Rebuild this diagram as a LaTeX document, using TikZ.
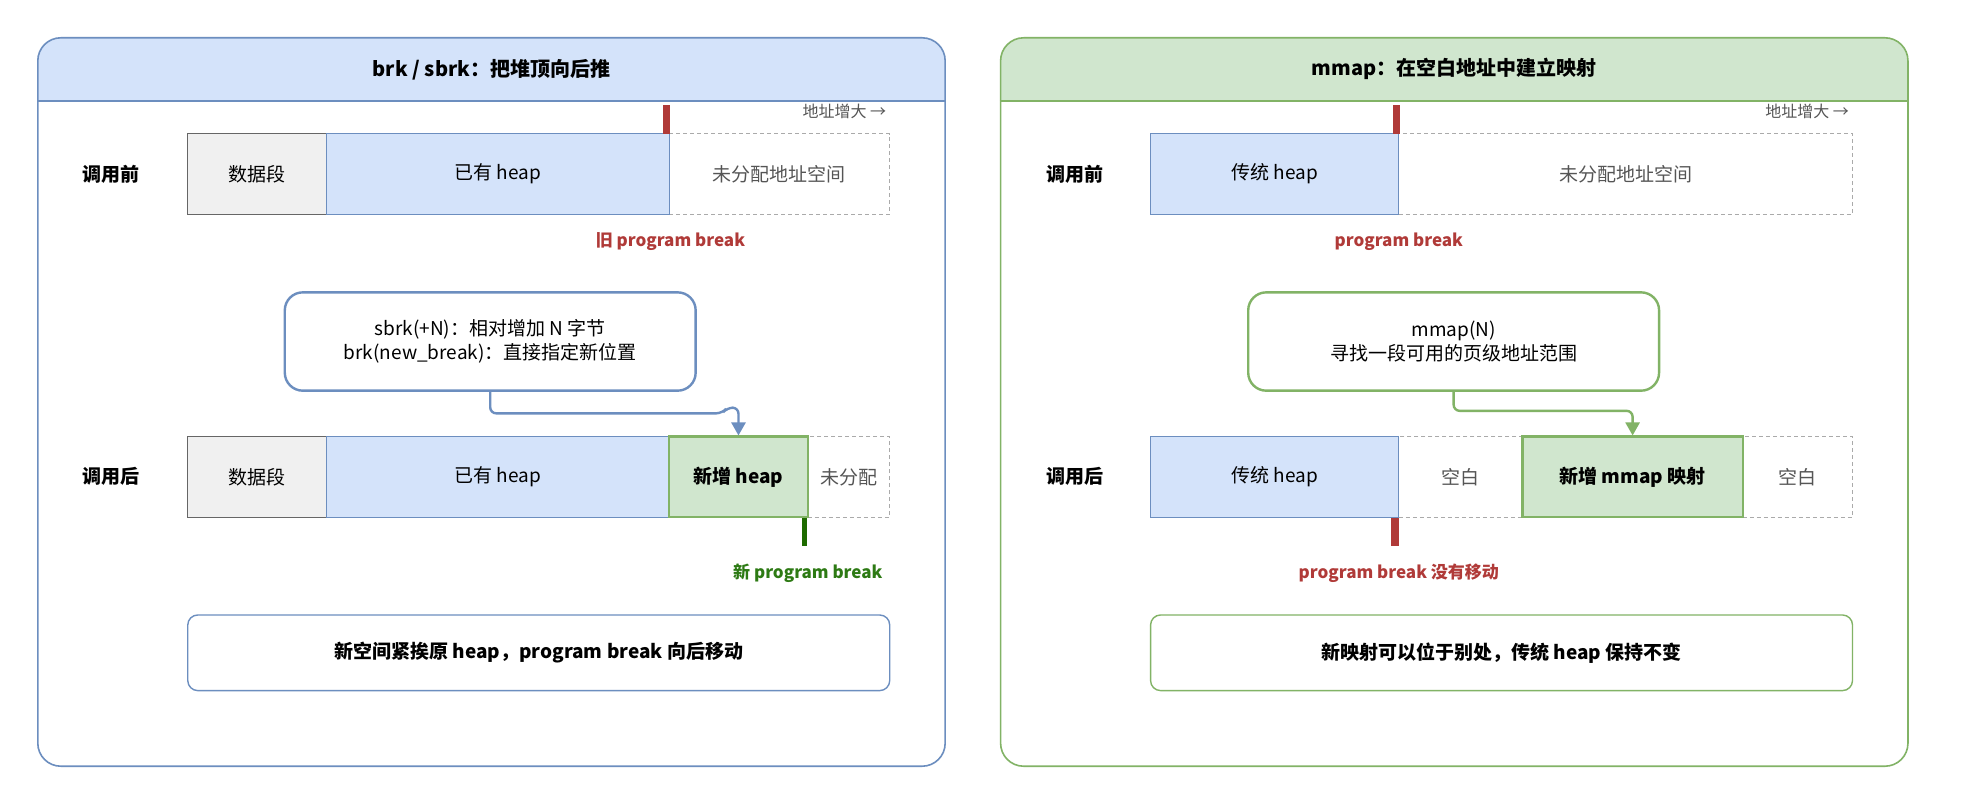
\documentclass[tikz,border=0pt]{standalone}
\usepackage{fontspec}
\setmainfont{Noto Sans CJK SC}
\usetikzlibrary{arrows.meta}
\definecolor{bluS}{HTML}{6C8EBF}
\definecolor{bluF}{HTML}{D4E3FA}
\definecolor{grnS}{HTML}{82B366}
\definecolor{grnF}{HTML}{D0E6CE}
\definecolor{gryS}{HTML}{666666}
\definecolor{gryF}{HTML}{F0F0F0}
\definecolor{dashS}{HTML}{AAAAAA}
\definecolor{gryT}{HTML}{555555}
\definecolor{redM}{HTML}{B03A38}
\definecolor{dgrnM}{HTML}{1E6B00}
\definecolor{dgrnT}{HTML}{2D7A14}
\newcommand\fN{\fontsize{19}{23.5}\selectfont}
\newcommand\fTi{\fontsize{20}{25}\selectfont\bfseries}
\newcommand\fSm{\fontsize{16}{19}\selectfont}
\newcommand\fBr{\fontsize{17}{21}\selectfont\bfseries}
\begin{document}
\begin{tikzpicture}[x=1.26pt,y=-1.26pt,
  seg/.style={rectangle, minimum height=80.6pt, inner sep=0pt, font=\fN},
  wd/.style={minimum width=#1*1.26pt},
  dataseg/.style={seg, fill=gryF, draw=gryS, line width=1.3pt},
  oldheap/.style={seg, fill=bluF, draw=bluS, line width=1.2pt},
  newseg/.style={seg, fill=grnF, draw=grnS, line width=2.4pt, font=\fN\bfseries},
  freeseg/.style={seg, draw=dashS, line width=1.1pt, dash pattern=on 4pt off 3pt, text=gryT},
  rowlab/.style={font=\fN\bfseries},
  panel/.style={rectangle, rounded corners=23pt, line width=1.6pt, inner sep=0pt, minimum width=907.2pt, minimum height=728.3pt},
  note/.style={rectangle, rounded corners=18pt, line width=2.4pt, fill=white, align=center, inner sep=0pt, minimum width=410.8pt, minimum height=98.3pt, font=\fN},
  sumbox/.style={rectangle, rounded corners=10pt, line width=1.4pt, fill=white, inner sep=0pt, minimum width=701.8pt, minimum height=75.6pt, font=\fN\bfseries},
  hint/.style={font=\fSm, text=gryT, anchor=east},
  brk/.style={font=\fBr},
  conn/.style={line width=2.4pt, rounded corners=6pt, -{Triangle[width=14pt,length=13pt]}}
]
\useasboundingbox (0,0) rectangle (1568,632);
\fill[white] (0,0) rectangle (1568,632);
\coordinate (hl) at (0,80);

% ---------- left panel ----------
\begin{scope}
\clip[rounded corners=23pt] (30,30) rectangle (750,608);
\fill[bluF] (30,30) rectangle (750,80);
\end{scope}
\node[panel, draw=bluS] (lpanel) at (390,319) {};
\draw[bluS, line width=1.6pt] (lpanel.west |- hl) -- (lpanel.east |- hl);
\node[font=\fTi] (ltitle) at (390,55) {brk / sbrk：把堆顶向后推};
\node[hint] (lhint) at (706,88) {地址增大 →};

\node[rowlab] (lbefore) at (88,138) {调用前};
\node[freeseg, wd=175] (lfree1) at (618.5,138) {未分配地址空间};
\node[dataseg, wd=110] (lds1) at (204,138) {数据段};
\node[oldheap, wd=272] (lheap1) at (395,138) {已有 heap};
\fill[redM] (526,83) rectangle (532,106);
\node[brk, text=redM] (loldbrk) at (532,192) {旧 program break};

\node[note, draw=bluS] (lnote) at (389,271) {sbrk(+N)：相对增加 N 字节\\brk(new\_break)：直接指定新位置};

\node[rowlab] (lafter) at (88,378) {调用后};
\node[freeseg, wd=65] (lfree2) at (673.5,378.5) {未分配};
\node[dataseg, wd=110] (lds2) at (204,378.5) {数据段};
\node[oldheap, wd=272] (lheap2) at (395,378.5) {已有 heap};
\node[newseg, wd=110] (lnew2) at (586,378.5) {新增 heap};
\fill[dgrnM] (636,411) rectangle (640.5,433);
\node[brk, text=dgrnT] (lnewbrk) at (641,455) {新 program break};

\draw[conn, bluS] (lnote.south) |- (573,328) -- (577,323.5) -- (586,323.5) -- (lnew2.north);

\node[sumbox, draw=bluS] (lsum) at (427.5,518) {新空间紧挨原 heap，program break 向后移动};

% ---------- right panel ----------
\begin{scope}
\clip[rounded corners=23pt] (794,30) rectangle (1514,608);
\fill[grnF] (794,30) rectangle (1514,80);
\end{scope}
\node[panel, draw=grnS] (rpanel) at (1154,319) {};
\draw[grnS, line width=1.6pt] (rpanel.west |- hl) -- (rpanel.east |- hl);
\node[font=\fTi] (rtitle) at (1154,55) {mmap：在空白地址中建立映射};
\node[hint] (rhint) at (1470,88) {地址增大 →};

\node[rowlab] (rbefore) at (853,138) {调用前};
\node[freeseg, wd=360] (rfree1) at (1290,138) {未分配地址空间};
\node[oldheap, wd=197] (rheap1) at (1011.5,138) {传统 heap};
\fill[redM] (1105,83) rectangle (1111,106);
\node[brk, text=redM] (rbrk1) at (1110,192) {program break};

\node[note, draw=grnS] (rnote) at (1153.5,271) {mmap(N)\\寻找一段可用的页级地址范围};

\node[rowlab] (rafter) at (853,378) {调用后};
\node[freeseg, wd=98] (rgap1) at (1159,378.5) {空白};
\node[freeseg, wd=87] (rgap2) at (1426.5,378.5) {空白};
\node[oldheap, wd=197] (rheap2) at (1011.5,378.5) {传统 heap};
\node[newseg, wd=175] (rmap) at (1295.5,378.5) {新增 mmap 映射};
\fill[redM] (1104,411) rectangle (1110,433);
\node[brk, text=redM] (rbrk2) at (1110,455) {program break 没有移动};

\draw[conn, grnS] (rnote.south) |- (rmap.north |- 0,326) -- (rmap.north);

\node[sumbox, draw=grnS] (rsum) at (1191.5,518) {新映射可以位于别处，传统 heap 保持不变};
\end{tikzpicture}
\end{document}
